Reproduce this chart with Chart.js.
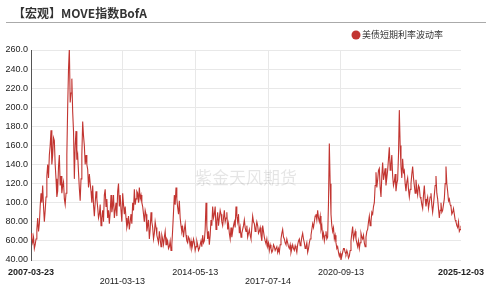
<!DOCTYPE html>
<html><head><meta charset="utf-8">
<script src="https://cdn.jsdelivr.net/npm/chart.js@4.4.1/dist/chart.umd.min.js"></script>
<style>
html,body{margin:0;padding:0;background:#fff;}
#wrap{position:relative;width:492px;height:287px;overflow:hidden;}
#title{position:absolute;left:13px;top:4px;font:bold 12px "Noto Sans CJK SC",sans-serif;color:#333;line-height:18px;white-space:nowrap;}
#rule{position:absolute;left:6px;top:22px;width:480px;height:0;border-top:1px solid #aaa;}
canvas{position:absolute;left:0;top:0;}
</style></head><body>
<div id="wrap"><canvas id="c" width="492" height="287" style="width:492px;height:287px"></canvas><div id="title"></div><div id="rule"></div></div>
<script>
const chartTitle = '【宏观】MOVE指数BofA';
const seriesName = '美债短期利率波动率';
const watermark = '紫金天风期货';
const startDate = '2007-03-23';
const endDate = '2025-12-03';
const xTickDates = ['2007-03-23','2011-03-13','2014-05-13','2017-07-14','2020-09-13','2025-12-03'];
const yTickValues = [40,60,80,100,120,140,160,180,200,220,240,260];
// MOVE index readings (upper/lower edges of the noisy band), evenly spaced from startDate to endDate
const moveValues = [
 68,62,58,64,52,56,62,72,84,70,78,96,110,100,118,96,80,92,106,128,140,126,150,160,176,140,150,168,165,140,125,106,112,138,150,118,128,110,118,122,104,98,110,150,200,240,262,205,215,230,195,175,125,160,175,145,150,132,115,102,125,150,185,170,160,140,150,140,135,116,130,120,112,100,118,98,86,100,112,104,95,84,88,98,76,84,92,80,108,114,96,104,84,92,78,90,108,90,96,108,84,92,100,86,112,120,96,108,92,80,110,98,88,96,84,74,78,86,72,80,88,78,100,92,114,98,104,112,110,100,116,
 104,
 108,100,96,88,80,92,88,70,76,82,62,72,90,80,74,62,68,80,74,66,62,58,70,62,54,66,62,56,64,70,56,62,60,52,54,60,50,56,72,90,108,98,116,104,95,88,102,84,76,70,74,64,72,78,66,60,58,64,62,54,60,52,56,62,58,50,54,60,56,50,52,56,60,54,66,58,60,72,100,76,62,70,56,66,82,76,96,84,88,96,72,80,90,76,84,92,88,80,76,84,92,80,84,90,72,78,68,62,74,64,70,76,80,74,96,86,80,88,68,74,64,
 68,
 72,76,82,74,70,76,64,68,72,66,62,74,86,80,78,70,74,80,76,68,70,74,66,60,76,70,64,60,57,62,54,58,50,56,52,48,50,56,54,50,50,54,48,52,48,56,62,68,72,64,62,58,56,62,58,54,52,56,48,52,56,52,50,55,52,48,56,60,62,55,58,64,68,62,58,52,54,58,48,52,58,62,66,72,78,74,80,86,88,82,92,84,80,86,72,76,64,68,60,66,70,62,64,100,162,120,88,76,70,74,62,66,58,52,54,48,44,47,40,44,48,52,52,48,46,
 50,
 47,42,44,50,60,68,75,62,66,70,62,58,54,60,52,58,68,64,62,66,58,54,64,70,72,80,86,76,80,90,88,96,100,118,132,116,124,134,136,116,106,128,142,124,130,136,118,126,134,146,158,134,140,150,128,118,122,130,112,120,124,150,197,160,138,126,146,132,134,120,112,122,126,114,106,114,120,130,138,126,118,110,124,114,108,118,116,106,104,98,94,108,118,104,96,102,106,94,100,106,110,98,90,98,108,118,128,110,104,94,84,92,100,90,92,98,104,120,138,120,112,102,104,98,96,88,90,94,88,82,80,76,74,80,70,72,76
];

document.getElementById('title').textContent = chartTitle;

const t0 = Date.parse(startDate), t1 = Date.parse(endDate);
const points = moveValues.map((v, i) => ({ x: t0 + (t1 - t0) * i / (moveValues.length - 1), y: v }));
const lineColor = '#c23531';
const lastX = xTickDates.length - 1;

const overlay = {
  id: 'overlay',
  beforeDatasetsDraw(chart) {
    const ctx = chart.ctx;
    ctx.save();
    ctx.font = '17px "Noto Sans CJK SC"';
    ctx.fillStyle = 'rgba(0,0,0,0.10)';
    ctx.textAlign = 'center';
    ctx.textBaseline = 'middle';
    ctx.fillText(watermark, 246, 178);
    ctx.restore();
  },
  afterDraw(chart) {
    const ctx = chart.ctx;
    ctx.save();
    ctx.fillStyle = lineColor;
    ctx.beginPath();
    ctx.arc(356, 35, 4.5, 0, Math.PI * 2);
    ctx.fill();
    ctx.font = '9px "Noto Sans CJK SC"';
    ctx.fillStyle = '#333';
    ctx.textAlign = 'left';
    ctx.textBaseline = 'middle';
    ctx.fillText(chart.data.datasets[0].label, 362, 35);
    ctx.restore();
  }
};

new Chart(document.getElementById('c'), {
  type: 'line',
  data: { datasets: [{ label: seriesName, data: points, borderColor: lineColor, backgroundColor: lineColor, borderWidth: 1.1, pointRadius: 0, tension: 0, fill: false }] },
  options: {
    responsive: false, animation: false,
    layout: { padding: { top: 50, right: 31, left: 0, bottom: 0 } },
    plugins: { legend: { display: false }, tooltip: { enabled: false } },
    scales: {
      x: {
        type: 'linear', min: t0, max: t1,
        afterBuildTicks(s) { s.ticks = xTickDates.map(d => ({ value: Date.parse(d) })); },
        afterFit(s) { s.height = 27; },
        ticks: {
          autoSkip: false, maxRotation: 0, padding: 8, color: '#222',
          font: (c) => ({ size: 9, family: '"Liberation Sans", Arial, sans-serif', weight: (c.index === 0 || c.index === lastX) ? 'bold' : 'normal', lineHeight: 1 }),
          callback: (v, i) => (i % 2 === 1 && i < lastX) ? ['', xTickDates[i]] : xTickDates[i]
        },
        grid: { color: (c) => (c.index === 0 || c.index === lastX) ? 'rgba(0,0,0,0)' : '#e8e8e8', drawTicks: false },
        border: { display: false }
      },
      y: {
        min: 40, max: 260,
        afterBuildTicks(s) { s.ticks = yTickValues.map(v => ({ value: v })); },
        afterFit(s) { s.width = 30; },
        ticks: { padding: 3, color: '#222', font: { size: 9, family: '"Liberation Sans", Arial, sans-serif' },
          callback: (v) => v >= 100 ? v.toFixed(1) : v.toFixed(2) },
        grid: { color: '#e8e8e8', drawTicks: false },
        border: { display: true, color: '#555', width: 1 }
      }
    }
  },
  plugins: [overlay]
});
</script>
</body></html>
